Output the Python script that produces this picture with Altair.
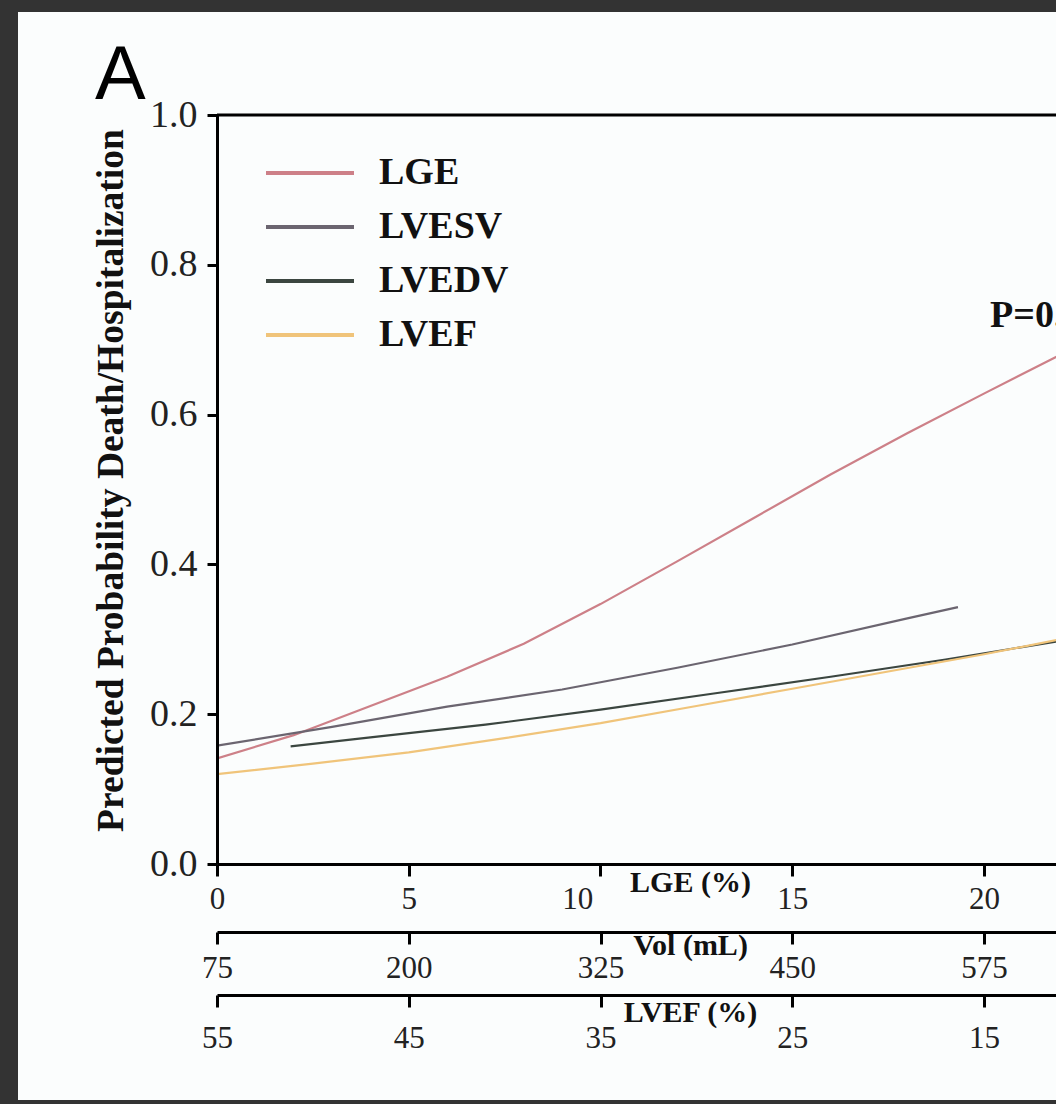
import altair as alt
import pandas as pd

# ---- data ----
lge_x = [0, 2, 4, 6, 8, 10, 12, 14, 16, 18, 20, 22]
lge_y = [0.141, 0.172, 0.211, 0.250, 0.294, 0.347, 0.404, 0.462, 0.520, 0.575, 0.628, 0.680]

lvesv_x = [75, 150, 225, 300, 375, 450, 525, 558]
lvesv_y = [0.158, 0.183, 0.210, 0.233, 0.262, 0.293, 0.328, 0.343]

lvedv_x = [123, 175, 250, 325, 400, 475, 550, 625]
lvedv_y = [0.157, 0.169, 0.186, 0.206, 0.228, 0.250, 0.273, 0.298]

lvef_x = [55, 50, 45, 40, 35, 30, 25, 20, 15, 11]
lvef_y = [0.120, 0.134, 0.149, 0.168, 0.188, 0.211, 0.234, 0.257, 0.280, 0.300]

series = ["LGE", "LVESV", "LVEDV", "LVEF"]
colors = ["#cd8088", "#6b6570", "#3b4640", "#f0c47a"]

lge_ticks = [0, 5, 10, 15, 20]
vol_ticks = [75, 200, 325, 450, 575]
lvef_ticks = [55, 45, 35, 25, 15]
y_ticks = [0.0, 0.2, 0.4, 0.6, 0.8, 1.0]

p_label = "P=0.001"

# visible ranges of the (cropped) x scales
lge_domain = [0, 21.88]
vol_domain = [75, 621.9]
lvef_domain = [55, 11.25]

SERIF = "Liberation Serif"
W, H = 839, 749
FRAME = "#333333"

lge_df = pd.DataFrame({"x": lge_x, "p": lge_y, "series": "LGE"})
vol_df = pd.concat([
    pd.DataFrame({"x": lvesv_x, "p": lvesv_y, "series": "LVESV"}),
    pd.DataFrame({"x": lvedv_x, "p": lvedv_y, "series": "LVEDV"}),
])
lvef_df = pd.DataFrame({"x": lvef_x, "p": lvef_y, "series": "LVEF"})

yscale = alt.Scale(domain=[0, 1], nice=False, zero=True)
yaxis = alt.Axis(
    values=y_ticks, format=".1f", title="Predicted Probability Death/Hospitalization",
    labelFontSize=38, labelPadding=10, tickSize=10, zindex=2,
    titleFont=SERIF, titleFontSize=37.5, titleFontWeight="bold", titleColor="#111",
    titleX=-106, titleY=365, titleAngle=270, titleAlign="center", titleBaseline="middle",
)

color = alt.Color(
    "series:N",
    scale=alt.Scale(domain=series, range=colors),
    legend=alt.Legend(
        orient="none", legendX=74, legendY=39, title=None,
        symbolType="M-4,0H4", symbolSize=484, symbolStrokeWidth=4,
        symbolFillColor="transparent",
        labelFont=SERIF, labelFontSize=38, labelFontWeight="bold", labelColor="#111",
        labelOffset=50, rowPadding=16, padding=0,
    ),
)

def xaxis(values, title, offset, title_y, label_pad, label_expr="datum.label"):
    return alt.Axis(
        values=values, format="d", orient="bottom", offset=offset, title=title,
        labelFontSize=31, labelPadding=label_pad, tickSize=12, zindex=2,
        labelFlush=False, labelOverlap=False, labelExpr=label_expr,
        titleFont=SERIF, titleFontSize=30, titleFontWeight="bold", titleColor="#111",
        titleX=473, titleY=title_y, titleAlign="center", titleBaseline="middle",
    )

y_enc = alt.Y("p:Q", scale=yscale, axis=yaxis)

# dark frame of the photographed slide (left, top and bottom bands)
one = alt.Data(values=[{"k": 1}])
band_left = alt.Chart(one).mark_rect(color=FRAME).encode(
    x=alt.value(-217), x2=alt.value(-199), y=alt.value(-115), y2=alt.value(989)
)
band_top = alt.Chart(one).mark_rect(color=FRAME).encode(
    x=alt.value(-217), x2=alt.value(W), y=alt.value(-115), y2=alt.value(-103)
)
band_bottom = alt.Chart(one).mark_rect(color=FRAME).encode(
    x=alt.value(-217), x2=alt.value(W), y=alt.value(985), y2=alt.value(989)
)

top_border = alt.Chart(one).mark_rule(color="black", strokeWidth=3).encode(
    y=alt.YDatum(1.0, type="quantitative", scale=yscale, axis=yaxis)
)

# the "10" label sits left of its tick in the reference (title next to it)
shift_10 = ("datum.value == 10 ? datum.label + "
            "'\u00a0\u00a0\u00a0\u00a0\u00a0\u00a0\u200b' : datum.label")

lge_scale = alt.Scale(domain=lge_domain, nice=False, zero=False)
lge_line = alt.Chart(lge_df).mark_line(strokeWidth=2.2, clip=True).encode(
    x=alt.X("x:Q", scale=lge_scale,
            axis=xaxis(lge_ticks, "LGE (%)", 0, 18, 8, shift_10)),
    y=y_enc, color=color,
)
p_text = alt.Chart(one).mark_text(
    text=p_label, align="left", baseline="alphabetic", font=SERIF,
    fontSize=38, fontWeight="bold", color="#111",
).encode(
    x=alt.XDatum(20.16, type="quantitative", scale=lge_scale),
    y=alt.YDatum(0.717, type="quantitative", scale=yscale, axis=yaxis),
)
lge_layer = alt.layer(lge_line, p_text)

vol_line = alt.Chart(vol_df).mark_line(strokeWidth=2.2, clip=True).encode(
    x=alt.X("x:Q", scale=alt.Scale(domain=vol_domain, nice=False, zero=False),
            axis=xaxis(vol_ticks, "Vol (mL)", 68, 13, 9)),
    y=y_enc, color=color, detail="series:N",
)

lvef_line = alt.Chart(lvef_df).mark_line(strokeWidth=2.2, clip=True).encode(
    x=alt.X("x:Q", scale=alt.Scale(domain=lvef_domain, nice=False, zero=False),
            axis=xaxis(lvef_ticks, "LVEF (%)", 131, 17, 16)),
    y=y_enc, color=color,
)

chart = alt.layer(
    band_left, band_top, band_bottom, top_border, lge_layer, vol_line, lvef_line
).resolve_scale(
    x="independent"
).properties(
    width=W, height=H,
    padding={"left": 217, "top": 115, "right": 0, "bottom": 240},
    autosize=alt.AutoSizeParams(type="none"),
    background="#fbfdfd",
    title=alt.TitleParams(
        "A", anchor="start", frame="group", font="Liberation Sans", fontSize=76,
        fontWeight="normal", color="black", dx=-122, dy=175, offset=0,
        baseline="alphabetic",
    ),
).configure_view(stroke=None).configure_axis(
    domainColor="black", domainWidth=3, tickColor="black", tickWidth=3,
    labelFont=SERIF, labelColor="#222", grid=False,
)

chart.save("out.html", embed_options={"renderer": "svg", "actions": False})
